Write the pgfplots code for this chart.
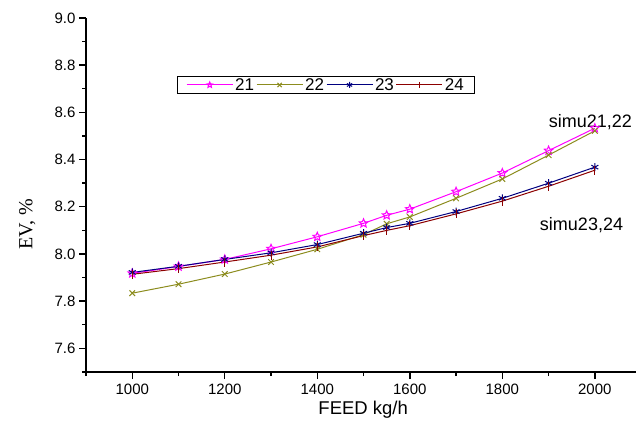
\documentclass[border=0pt]{standalone}
\usepackage{fontspec}
\setmainfont{Liberation Sans}
\newfontfamily\serifft{Liberation Serif}
\usepackage{pgfplots}
\pgfplotsset{compat=1.18}
\definecolor{c21}{RGB}{255,0,255}
\definecolor{c22}{RGB}{140,140,30}
\definecolor{c23}{RGB}{0,0,128}
\definecolor{c24}{RGB}{140,0,0}
\pgfdeclareplotmark{ostar}{%
  \pgfpathmoveto{\pgfpointpolar{90}{\pgfplotmarksize}}%
  \pgfpathlineto{\pgfpointpolar{126}{0.45\pgfplotmarksize}}%
  \pgfpathlineto{\pgfpointpolar{162}{\pgfplotmarksize}}%
  \pgfpathlineto{\pgfpointpolar{198}{0.45\pgfplotmarksize}}%
  \pgfpathlineto{\pgfpointpolar{234}{\pgfplotmarksize}}%
  \pgfpathlineto{\pgfpointpolar{270}{0.45\pgfplotmarksize}}%
  \pgfpathlineto{\pgfpointpolar{306}{\pgfplotmarksize}}%
  \pgfpathlineto{\pgfpointpolar{342}{0.45\pgfplotmarksize}}%
  \pgfpathlineto{\pgfpointpolar{18}{\pgfplotmarksize}}%
  \pgfpathlineto{\pgfpointpolar{54}{0.45\pgfplotmarksize}}%
  \pgfpathclose
  \pgfusepathqstroke
}
\begin{document}
\begin{tikzpicture}
\path[use as bounding box] (0,0) rectangle (636pt,425pt);
\begin{axis}[
  at={(86pt,53pt)}, anchor=south west,
  scale only axis, width=550pt, height=354pt,
  xmin=900, xmax=2089, ymin=7.5, ymax=9.0,
  axis x line=bottom, axis y line=left,
  axis line style={-, line width=1.6pt},
  tick align=outside,
  major tick length=7pt, minor tick length=4pt,
  every tick/.style={black, line width=1.4pt},
  xtick={1000,1200,1400,1600,1800,2000},
  minor xtick={900,1100,1300,1500,1700,1900,2100},
  ytick={7.6,7.8,8.0,8.2,8.4,8.6,8.8,9.0},
  minor ytick={7.5,7.7,7.9,8.1,8.3,8.5,8.7,8.9},
  /pgf/number format/assume math mode=true,
  xticklabel style={font=\fontsize{15}{17}\selectfont, /pgf/number format/1000 sep={}, yshift=-1pt},
  yticklabel style={font=\fontsize{15}{17}\selectfont, /pgf/number format/.cd, fixed, fixed zerofill, precision=1},
  xlabel={FEED kg/h},
  xlabel style={font=\fontsize{18.5}{20}\selectfont, at={(axis description cs:0.504,-0.107)}, anchor=center},
  ylabel={\serifft EV, \%},
  ylabel style={font=\fontsize{20}{22}\selectfont, at={(axis description cs:-0.107,0.418)}, anchor=center},
  legend columns=4,
  legend style={at={(axis description cs:0.1655,0.836)}, anchor=north west,
    draw=none, fill=none, name=leg, font=\fontsize{17}{19}\selectfont,
    inner xsep=9pt, inner ysep=1pt, column sep=1pt,
    nodes={inner sep=1pt}},
  legend image code/.code={\draw[line width=1pt,mark repeat=2,mark phase=2,#1,mark size=3pt] plot coordinates {(0pt,0pt) (23pt,0pt) (46pt,0pt)};},
  every axis plot/.append style={line width=1pt},
]
\addplot[color=c21, mark=ostar, mark size=4.5pt] coordinates {
(1000,7.918)(1100,7.947)(1200,7.977)(1300,8.022)(1400,8.073)(1500,8.13)(1550,8.164)(1600,8.19)(1700,8.264)(1800,8.343)(1900,8.438)(2000,8.533)};
\addlegendentry{21}
\addplot[color=c22, mark=x, mark size=4pt] coordinates {
(1000,7.834)(1100,7.872)(1200,7.915)(1300,7.966)(1400,8.02)(1500,8.082)(1550,8.128)(1600,8.157)(1700,8.236)(1800,8.318)(1900,8.419)(2000,8.522)};
\addlegendentry{22}
\addplot[color=c23, mark=asterisk, mark size=4pt] coordinates {
(1000,7.922)(1100,7.948)(1200,7.977)(1300,8.005)(1400,8.04)(1500,8.088)(1550,8.112)(1600,8.13)(1700,8.18)(1800,8.236)(1900,8.3)(2000,8.368)};
\addlegendentry{23}
\addplot[color=c24, mark=|, mark size=4.5pt] coordinates {
(1000,7.914)(1100,7.938)(1200,7.966)(1300,7.995)(1400,8.03)(1500,8.078)(1550,8.1)(1600,8.12)(1700,8.17)(1800,8.224)(1900,8.287)(2000,8.355)};
\addlegendentry{24}
\node[anchor=west, font=\fontsize{18}{20}\selectfont, inner sep=0pt] at (axis cs:1900,8.559) {simu21,22};
\node[anchor=west, font=\fontsize{18}{20}\selectfont, inner sep=0pt] at (axis cs:1881,8.123) {simu23,24};
\end{axis}
\draw[line width=1pt] (leg.south west) rectangle (leg.north east);
\end{tikzpicture}
\end{document}
